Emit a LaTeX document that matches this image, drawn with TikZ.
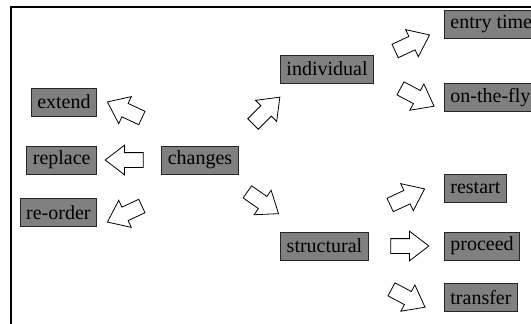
\documentclass[tikz,border=0pt]{standalone}
\usepackage{fontspec}
\setmainfont{Liberation Serif}
\newfontfamily\labelfont{Liberation Serif}
\usetikzlibrary{shapes.arrows,positioning}

\begin{document}
\begin{tikzpicture}[x=0.5pt,y=-0.5pt,
  box/.style={rectangle,draw=black!85,fill=black!50,minimum height=14pt,inner xsep=3pt,inner ysep=0pt,font=\labelfont\fontsize{10}{12}\selectfont},
  fatarrow/.style={single arrow,draw=black,fill=white,thin,inner xsep=0pt,inner ysep=3.5pt,minimum height=19pt,minimum width=14.5pt,single arrow head extend=3.75pt,single arrow tip angle=75}]
  \clip (0,0) rectangle (531,323);
  \draw[line width=1pt] (11,340) |- (545,7);
  % middle
  \node (changes) [box] at (200,160) {changes};
  % left column
  \node (extend) [box,anchor=east] at (97,102) {extend};
  \node (replace) [box,anchor=east] at (97,160) {replace};
  \node (reorder) [box,anchor=east] at (97,212.5) {re-order};
  \node (toextend) [fatarrow,rotate=155] at (129,112) {};
  \node (toreplace) [fatarrow,rotate=180] at (129,160) {};
  \node (toreorder) [fatarrow,rotate=205] at (129,212) {};
  % second level
  \node (individual) [box] at (327,69) {individual};
  \node (structural) [box] at (324.5,246) {structural};
  \node (toindividual) [fatarrow,rotate=45] at (263,114) {};
  \node (tostructural) [fatarrow,rotate=-35] at (259,200) {};
  % right column
  \node (entry) [box,anchor=west] at (444,24.5) {entry time};
  \node (onthefly) [box,anchor=west] at (444,97.5) {on-the-fly};
  \node (restart) [box,anchor=west] at (444,188) {restart};
  \node (proceed) [box,anchor=west] at (444,246) {proceed};
  \node (transfer) [box,anchor=west] at (444,297.5) {transfer};
  \node (toentry) [fatarrow,rotate=25] at (408,45) {};
  \node (toonthefly) [fatarrow,rotate=-28] at (413,95) {};
  \node (torestart) [fatarrow,rotate=25] at (403,199) {};
  \node (toproceed) [fatarrow] at (405,246) {};
  \node (totransfer) [fatarrow,rotate=-28] at (404,296) {};
\end{tikzpicture}
\end{document}
